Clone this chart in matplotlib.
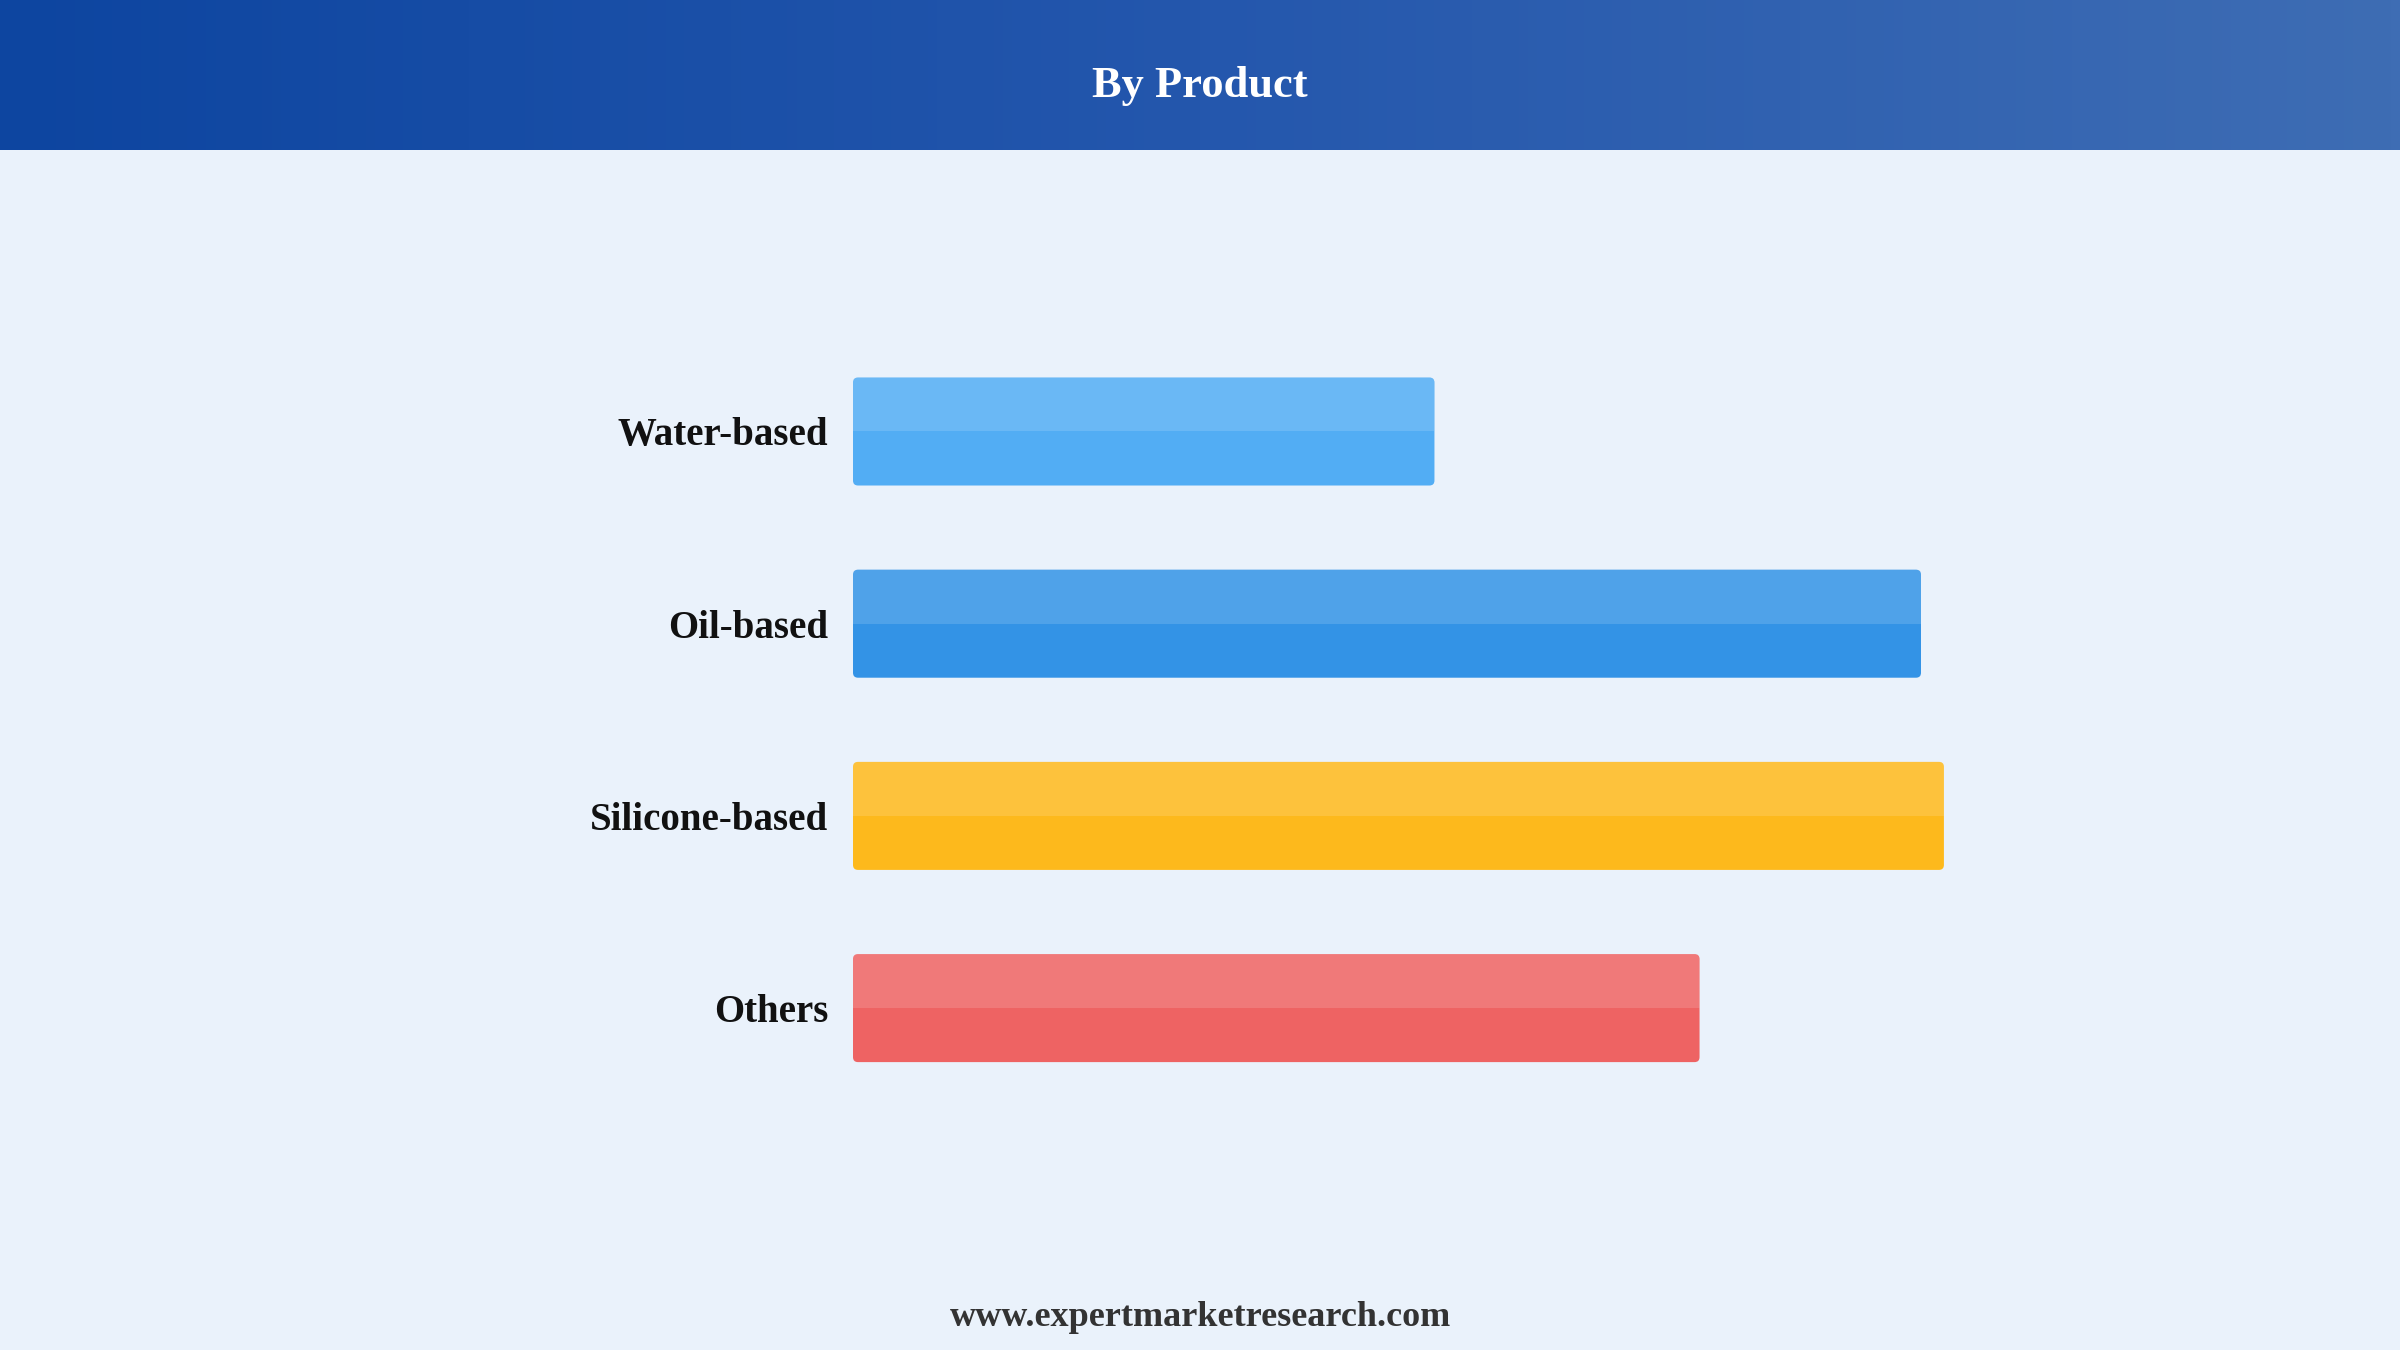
import numpy as np
import matplotlib
matplotlib.use("Agg")
import matplotlib.pyplot as plt
from matplotlib.patches import FancyBboxPatch, Rectangle
from matplotlib.colors import LinearSegmentedColormap

categories = ["Water-based", "Oil-based", "Silicone-based", "Others"]
values = [53.3, 97.9, 100.0, 77.6]
colors = ["#52adf4", "#3393e6", "#fdb91c", "#ee6363"]
title = "By Product"
footer = "www.expertmarketresearch.com"

W, H, DPI = 24, 13.5, 100
BG = "#eaf2fb"
fig = plt.figure(figsize=(W, H), dpi=DPI, facecolor=BG)

# header gradient
hax = fig.add_axes([0, 1 - 150 / 1350, 1, 150 / 1350])
grad = np.linspace(0, 1, 512).reshape(1, -1)
cmap = LinearSegmentedColormap.from_list("hdr", ["#0d45a0", "#2457ad", "#3e6db4"])
hax.imshow(grad, aspect="auto", cmap=cmap, extent=[0, 1, 0, 1])
hax.set_axis_off()
hax.text(0.5, 0.43, title, ha="center", va="center", color="white",
         fontsize=32, fontweight="bold", family="Liberation Serif",
         transform=hax.transAxes)

# main axes
left_px, width_px = 853, 1200
top_px, height_px = 239.3, 961.0
ax = fig.add_axes([left_px / 2400, 1 - (top_px + height_px) / 1350,
                   width_px / 2400, height_px / 1350])
ax.set_facecolor("none")
ax.set_xlim(0, 110)
ax.set_ylim(3.5 + 0.5, -1)

bar_h = 0.562
y = np.arange(len(categories))
bars = ax.barh(y, values, height=bar_h, color=colors)

# replace with rounded versions
xpp = 110 / width_px          # data per pixel in x
ypp = 5 / height_px           # data per pixel in y
aspect = ypp / xpp
radius_px = 5
for b, c in zip(bars, colors):
    x0, y0 = b.get_x(), b.get_y()
    w, h = b.get_width(), b.get_height()
    b.set_visible(False)
    p = FancyBboxPatch((x0, y0), w, h,
                       boxstyle=f"round,pad=0,rounding_size={radius_px * xpp}",
                       mutation_aspect=aspect, facecolor=c, edgecolor="none")
    ax.add_patch(p)
    ov = FancyBboxPatch((x0, y0), w, h,
                        boxstyle=f"round,pad=0,rounding_size={radius_px * xpp}",
                        mutation_aspect=aspect, facecolor="white", alpha=0.14,
                        edgecolor="none")
    ax.add_patch(ov)
    clip = Rectangle((x0, y0), w, h / 2, transform=ax.transData)
    ov.set_clip_path(clip)

ax.set_yticks(y)
ax.set_yticklabels(categories, fontsize=28, fontweight="bold",
                   family="Liberation Serif", color="#111111")
ax.tick_params(axis="y", length=0, pad=18)
ax.set_xticks([])
for s in ax.spines.values():
    s.set_visible(False)

fig.text(0.5, 1 - 1317 / 1350, footer, ha="center", va="center",
         fontsize=26, fontweight="bold", family="Liberation Serif",
         color="#333333")

fig.savefig("out.png", dpi=DPI, facecolor=BG)
